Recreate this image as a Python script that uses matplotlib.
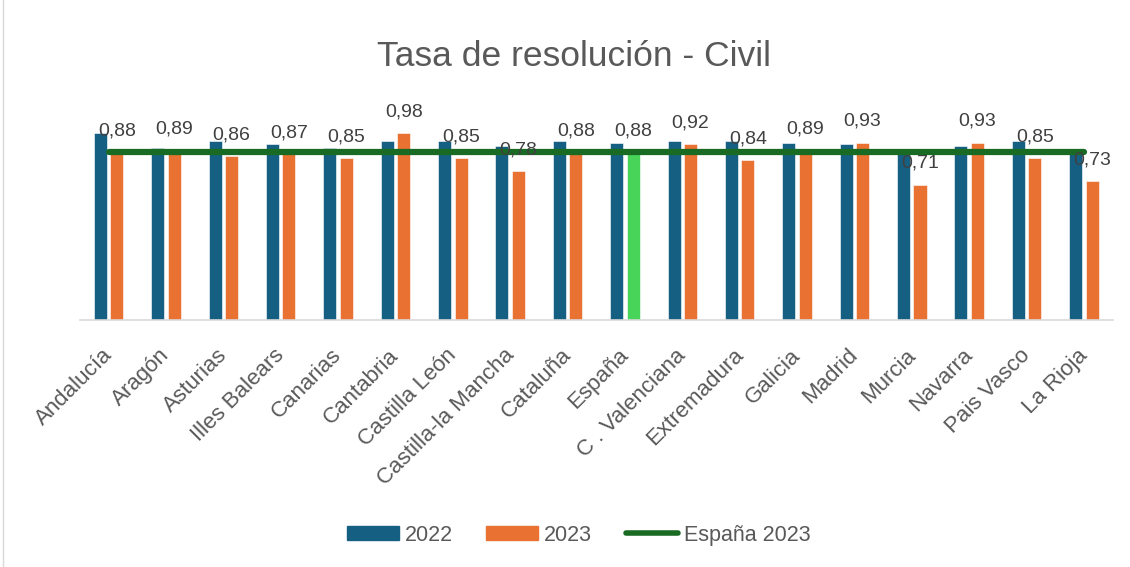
import numpy as np
import matplotlib.pyplot as plt
import matplotlib.transforms as mtransforms
from matplotlib.patches import Patch
from matplotlib.lines import Line2D

plt.rcParams['font.family'] = ['Liberation Sans', 'DejaVu Sans']

# Data
regions = ['Andalucía', 'Aragón', 'Asturias', 'Illes Balears', 'Canarias', 'Cantabria',
           'Castilla León', 'Castilla-la Mancha', 'Cataluña', 'España', 'C . Valenciana',
           'Extremadura', 'Galicia', 'Madrid', 'Murcia', 'Navarra', 'Pais Vasco', 'La Rioja']
vals_2022 = [0.98, 0.90, 0.94, 0.92, 0.90, 0.94, 0.94, 0.91, 0.94, 0.93, 0.94, 0.94,
             0.93, 0.92, 0.87, 0.91, 0.94, 0.87]
vals_2023 = [0.88, 0.89, 0.86, 0.87, 0.85, 0.98, 0.85, 0.78, 0.88, 0.88, 0.92, 0.84,
             0.89, 0.93, 0.71, 0.93, 0.85, 0.73]
espana_2023 = 0.88

blue = '#156082'
orange = '#E97132'
green_bar = '#47D459'
green_line = '#196B24'
txt = '#595959'

fig = plt.figure(figsize=(11.3, 5.67), dpi=100)
ax = fig.add_axes([0.0708, 0.4356, 0.9139, 0.4039])

x = np.arange(len(regions))
w = 0.227
colors_2023 = [green_bar if r == 'España' else orange for r in regions]

ax.bar(x - 0.146, vals_2022, width=w, color=blue, edgecolor='white', linewidth=0.4, zorder=2)
ax.bar(x + 0.141, vals_2023, width=w, color=colors_2023, edgecolor='white', linewidth=0.4, zorder=2)
ax.plot(x, [espana_2023] * len(x), color=green_line, linewidth=4.5,
        solid_capstyle='round', zorder=3)

# data labels on the 2023 bars
for xi, v in zip(x, vals_2023):
    ax.annotate(f'{v:.2f}'.replace('.', ','), (xi + 0.141, v), xytext=(0, 12),
                textcoords='offset points', ha='center', va='baseline',
                fontsize=14, color='#404040', zorder=4)

ax.set_xlim(-0.5, len(regions) - 0.5)
ax.set_ylim(0, 1.2)
ax.set_yticks([])
ax.set_xticks(x)
ax.set_xticklabels(regions, rotation=45, ha='right', va='top', rotation_mode='anchor',
                   fontsize=16, color=txt)
ax.tick_params(axis='x', length=0, pad=15)
# nudge the rotated labels a little left and down
offset = mtransforms.ScaledTranslation(-0.07, -0.04, fig.dpi_scale_trans)
for lab in ax.get_xticklabels():
    lab.set_transform(lab.get_transform() + offset)
for s in ['top', 'right', 'left']:
    ax.spines[s].set_visible(False)
ax.spines['bottom'].set_color('#D9D9D9')
ax.spines['bottom'].set_linewidth(1.2)

fig.text(0.5084, 0.9, 'Tasa de resolución - Civil', ha='center', va='center',
         fontsize=25.5, color=txt)

handles = [Patch(color=blue, label='2022'), Patch(color=orange, label='2023'),
           Line2D([], [], color=green_line, linewidth=4, solid_capstyle='round',
                  label='España 2023')]
fig.legend(handles=handles, loc='center', bbox_to_anchor=(0.512, 0.056), ncol=3,
           frameon=False, fontsize=15.5, labelcolor=txt, handlelength=2.42,
           handleheight=0.62, columnspacing=1.55, handletextpad=0.28)

# thin chart-area border on the left edge
fig.add_artist(Line2D([0.003, 0.003], [0, 1], transform=fig.transFigure,
                      color='#D9D9D9', linewidth=1))

fig.savefig('out.png', dpi=100)
